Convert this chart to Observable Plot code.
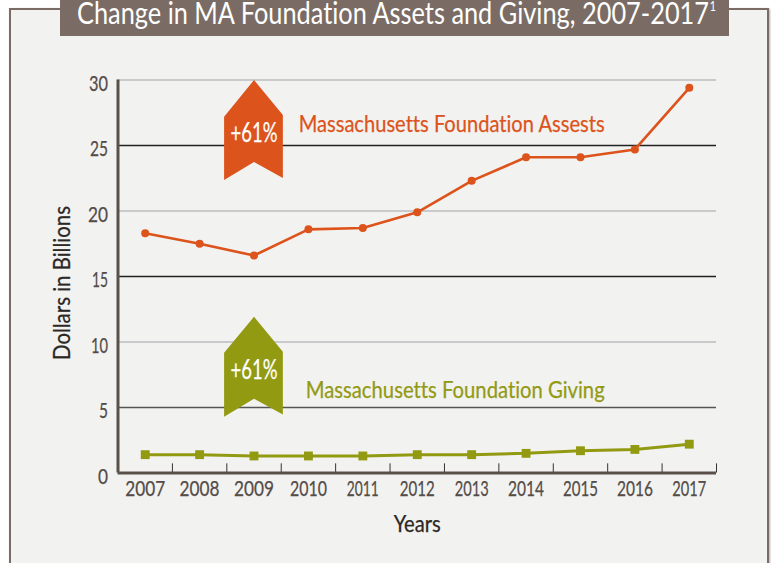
<!DOCTYPE html>
<html>
<head>
<meta charset="utf-8">
<script src="https://cdn.jsdelivr.net/npm/d3@7"></script>
<script src="https://cdn.jsdelivr.net/npm/@observablehq/plot@0.6"></script>
<style>
html,body{margin:0;padding:0;background:#fff;overflow:hidden;width:771px;height:563px}
#wrap{position:relative;width:771px;height:563px;overflow:hidden;font-family:Lato,sans-serif;font-variant-ligatures:none}
#frame{position:absolute;left:9px;top:8px;width:756px;height:600px;background:#f2f2f0;border:2px solid #7a6c64;box-shadow:1px 1px 2px #aaa}
#bar{position:absolute;left:60px;top:0;width:669px;height:36px;background:#7a6c64}
#title{position:absolute;left:17px;top:0;color:#fff;font-size:31px;line-height:24px;white-space:nowrap;transform-origin:0 0;display:inline-block}
#title sup{font-size:13px;line-height:0;vertical-align:baseline;position:relative;top:-13px;margin-left:1px}
#chart{position:absolute;left:0;top:0}
svg{display:block;background:transparent}
svg text{font-variant-ligatures:none}
</style>
</head>
<body>
<div id="wrap">
  <div id="frame"></div>
  <div id="bar"><span id="title">Change in MA Foundation Assets and Giving, 2007-2017<sup>1</sup></span></div>
  <div id="chart"></div>
</div>
<script>
const years = [2007,2008,2009,2010,2011,2012,2013,2014,2015,2016,2017];
const assets = [18.3,17.5,16.6,18.6,18.7,19.9,22.3,24.1,24.1,24.7,29.4];
const giving = [1.4,1.4,1.3,1.3,1.3,1.4,1.4,1.5,1.7,1.8,2.2];
const yTicks = [0,5,10,15,20,25,30];
const strongGrid = [15,25];
const midGrid = [5];
const lightGrid = [10,20,30];
const bandEdges = [2007.5,2008.5,2009.5,2010.5,2011.5,2012.5,2013.5,2014.5,2015.5,2016.5,2017.5];
const assetsArrow = [[2008.45,27.2],[2009,30],[2009.53,27.33],[2009.53,22.52],[2009,23.74],[2008.45,22.37]];
const givingArrow = [[2008.45,9.18],[2009,11.93],[2009.53,9.26],[2009.53,4.47],[2009,5.67],[2008.45,4.3]];
const labels = [
  {x:2009.82,y:26.64,text:"Massachusetts Foundation Assests",color:"#dc531b"},
  {x:2009.95,y:6.34,text:"Massachusetts Foundation Giving",color:"#929a12"}
];
const badges = [{x:2009,y:25.95,text:"+61%"},{x:2009,y:7.86,text:"+61%"}];

const orange = "#dc531b", olive = "#929a12", axisColor = "#5a504a", tickText = "#544c48";
const series = a => years.map((d,i)=>({year:d,value:a[i]}));

const plot = Plot.plot({
  width:771, height:563,
  marginLeft:117.5, marginRight:55, marginTop:79.5, marginBottom:90.5,
  style:{fontFamily:"Lato, sans-serif", background:"transparent", overflow:"visible"},
  x:{domain:[2006.5,2017.5], label:null},
  y:{domain:[0,30], label:null},
  marks:[
    Plot.ruleY(lightGrid,{stroke:"#bcbcc0",strokeWidth:1.5}),
    Plot.ruleY(strongGrid,{stroke:"#222",strokeWidth:1.3}),
    Plot.ruleY(midGrid,{stroke:"#555",strokeWidth:1.4}),
    Plot.ruleX(bandEdges,{y1:0,y2:0.7,stroke:"#333",strokeWidth:1}),
    Plot.ruleX([2006.5],{stroke:axisColor,strokeWidth:3}),
    Plot.ruleY([0],{stroke:axisColor,strokeWidth:3}),
    Plot.axisX({ticks:years,tickFormat:d=>String(d),tickSize:0,tickPadding:7.5,fontSize:22,color:tickText,
      label:"Years",labelAnchor:"center",labelArrow:"none",labelOffset:59}),
    Plot.axisY({ticks:yTicks,tickSize:0,tickPadding:10,fontSize:22,color:tickText,dy:3.5,label:null}),
    Plot.text(["Dollars in Billions"],{frameAnchor:"left",textAnchor:"middle",rotate:-90,dx:-55.5,dy:6.5,fontSize:23,fill:"#2b2725"}),
    Plot.line(assetsArrow,{x:d=>d[0],y:d=>d[1],fill:orange,stroke:"none"}),
    Plot.line(givingArrow,{x:d=>d[0],y:d=>d[1],fill:olive,stroke:"none"}),
    Plot.line(series(assets),{x:"year",y:"value",stroke:orange,strokeWidth:2.6}),
    Plot.dot(series(assets),{x:"year",y:"value",fill:orange,r:4}),
    Plot.line(series(giving),{x:"year",y:"value",stroke:olive,strokeWidth:3}),
    Plot.dot(series(giving),{x:"year",y:"value",fill:olive,symbol:"square",r:5}),
    Plot.text(labels,{x:"x",y:"y",text:"text",fill:"color",textAnchor:"start",fontSize:24}),
    Plot.text(badges,{x:"x",y:"y",text:"text",fill:"#fff",fontSize:27})
  ]
});
document.getElementById("chart").append(plot);

// squeeze the wide installed font to the condensed widths of the reference
const fit = {"2007":40,"2008":40,"2009":40,"2010":37,"2011":32,"2012":35,"2013":34,"2014":36,"2015":35,"2016":36,"2017":34,
  "0":10,"5":9,"10":17,"15":16,"20":20,"25":18,"30":19,
  "+61%":47,"Massachusetts Foundation Assests":306,"Massachusetts Foundation Giving":299,
  "Years":47,"Dollars in Billions":154};
d3.select(plot).selectAll("text").each(function(){
  const t=this.textContent;
  if(fit[t]){this.setAttribute("textLength",fit[t]);this.setAttribute("lengthAdjust","spacingAndGlyphs");}
  if(t==="Years"){this.setAttribute("fill","#2b2725");this.style.fontSize="23px";}
  const c=getComputedStyle(this).fill;
  this.style.stroke=c;this.style.strokeWidth="0.25px";
});
const title=document.getElementById("title");
const sup=title.querySelector("sup");
title.style.transform="scaleX("+(632/(title.getBoundingClientRect().width-sup.getBoundingClientRect().width-1))+")";
</script>
</body>
</html>
